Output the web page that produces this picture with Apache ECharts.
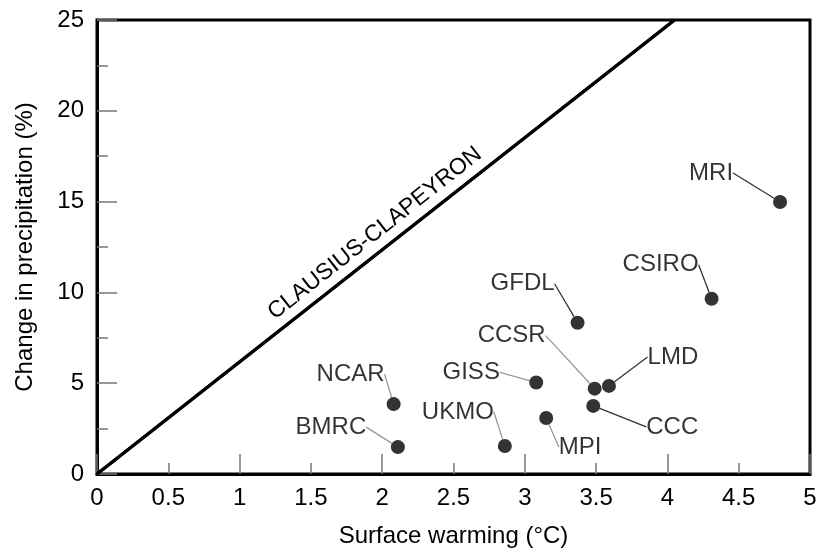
<!DOCTYPE html>
<html>
<head>
<meta charset="utf-8">
<script src="https://cdn.jsdelivr.net/npm/echarts@6/dist/echarts.min.js"></script>
<style>
  html, body { margin: 0; padding: 0; background: #fff; }
  #chart { width: 831px; height: 553px; }
</style>
</head>
<body>
<div id="chart"></div>
<script>
// model results
const models  = ['MRI', 'CSIRO', 'GFDL', 'CCSR', 'LMD', 'GISS', 'NCAR', 'BMRC', 'UKMO', 'MPI', 'CCC']
const warming = [4.79, 4.31, 3.37, 3.49, 3.59, 3.08, 2.08, 2.11, 2.86, 3.15, 3.48]
const precip  = [14.98, 9.65, 8.33, 4.70, 4.85, 5.04, 3.85, 1.48, 1.54, 3.08, 3.75]

// Clausius-Clapeyron reference line
const ccWarming = [0, 4.05]
const ccPrecip  = [0, 25]

// label placement (pixels from the dot) and leader shade
const labelShift = [[-69, -29], [-51, -34], [-55, -39], [-83, -53], [64, -29], [-65, -10],
                    [-43, -30], [-67, -20], [-47, -34], [34, 29], [79, 21]]
const leaderDark = [true, true, true, false, true, false, false, false, false, false, true]

const font = '"Liberation Sans", Arial, Helvetica, sans-serif'

const points = models.map((name, i) => ({
    name: name,
    value: [warming[i], precip[i]],
    labelLine: { lineStyle: { color: leaderDark[i] ? '#333' : '#999' } }
}))

const chart = echarts.init(document.getElementById('chart'))

chart.setOption({
    animation: false,
    grid: { left: 97, right: 21, top: 20, bottom: 78, show: true, borderColor: '#000', borderWidth: 3 },
    xAxis: [
        {
            type: 'value', min: 0, max: 5, interval: 1,
            name: 'Surface warming (°C)', nameLocation: 'middle', nameGap: 50,
            nameTextStyle: { fontFamily: font, fontSize: 24, color: '#000' },
            axisLine: { lineStyle: { color: '#000', width: 3 } },
            axisTick: { inside: true, length: 20, lineStyle: { color: '#777', width: 1.5 } },
            minorTick: { show: true, splitNumber: 2, length: 11, lineStyle: { color: '#777', width: 1.5 } },
            axisLabel: { show: false },
            splitLine: { show: false }
        },
        {
            type: 'value', min: 0, max: 5, interval: 0.5, position: 'bottom',
            axisLine: { show: false },
            axisTick: { show: false },
            splitLine: { show: false },
            axisLabel: { margin: 12, fontFamily: font, fontSize: 24, color: '#000' }
        }
    ],
    yAxis: {
        type: 'value', min: 0, max: 25, interval: 5,
        name: 'Change in precipitation (%)', nameLocation: 'middle', nameGap: 60,
        nameTextStyle: { fontFamily: font, fontSize: 24, color: '#000' },
        axisLine: { lineStyle: { color: '#000', width: 3 } },
        axisTick: { inside: true, length: 20, lineStyle: { color: '#777', width: 1.5 } },
        minorTick: { show: true, splitNumber: 2, length: 11, lineStyle: { color: '#777', width: 1.5 } },
        axisLabel: { margin: 13, fontFamily: font, fontSize: 24, color: '#000' },
        splitLine: { show: false }
    },
    series: [
        {
            type: 'line',
            xAxisIndex: 0,
            data: ccWarming.map((x, i) => [x, ccPrecip[i]]),
            symbol: 'none',
            lineStyle: { color: '#000', width: 3 },
            markLine: {
                silent: true,
                symbol: 'none',
                lineStyle: { color: '#000', width: 3, type: 'solid' },
                label: {
                    show: true, position: 'middle', distance: 6,
                    formatter: 'CLAUSIUS-CLAPEYRON',
                    fontFamily: font, fontSize: 23, color: '#000'
                },
                data: [[
                    { coord: [ccWarming[0], ccPrecip[0]] },
                    { coord: [ccWarming[1], ccPrecip[1]] }
                ]]
            }
        },
        {
            type: 'scatter',
            xAxisIndex: 0,
            data: points,
            symbolSize: 14,
            itemStyle: { color: '#000' },
            label: {
                show: true, position: 'inside', formatter: '{b}',
                fontFamily: font, fontSize: 24, color: '#000', padding: 3
            },
            labelLine: { show: true, lineStyle: { width: 1.3 } },
            labelLayout: params => ({
                dx: labelShift[params.dataIndex][0],
                dy: labelShift[params.dataIndex][1]
            })
        }
    ]
})
</script>
</body>
</html>
